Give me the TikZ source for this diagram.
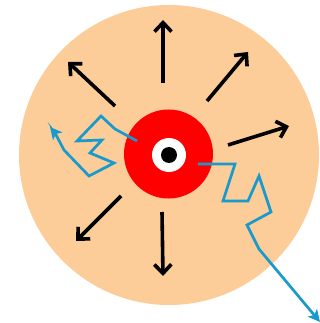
\documentclass[tikz,border=0pt]{standalone}
\usetikzlibrary{arrows.meta}
\definecolor{peach}{RGB}{252,204,153}
\definecolor{wblue}{RGB}{24,154,204}
\begin{document}
\begin{tikzpicture}[x=1pt,y=-1pt,
  ray/.style={line width=3.6pt,black,-{Straight Barb[length=9pt,width=17pt]}},
  walk/.style={line width=2.7pt,wblue,line join=miter,-{Stealth[length=12pt,width=12pt,inset=3pt]}}]
\useasboundingbox (0,0) rectangle (320,323);
\coordinate (c) at (169,155);
\fill[peach] (c) circle[radius=150];
\fill[red] (168.5,154) circle[radius=44.5];
\fill[white] (169,155) circle[radius=17];
\fill[black] (169,155) circle[radius=8];
% black arrows
\draw[ray] (163,83) -- (163,20);
\draw[ray] (115,106) -- (68,62);
\draw[ray] (207,101) -- (248,52);
\draw[ray] (228,145) -- (289,126);
\draw[ray] (121,196) -- (76,241);
\draw[ray] (162,212) -- (163,276);
% blue random walks
\draw[walk] (137,141) -- (115,129) -- (101,116) -- (77,141) -- (102,140) -- (90,153) -- (114,163) -- (89,176) -- (64,150) -- (55,133) -- (50,127);
\draw[walk] (198,164) -- (235,164) -- (223,201) -- (248,201) -- (259,176) -- (271,212) -- (247,225) -- (259,249) -- (320,322);
\end{tikzpicture}
\end{document}
